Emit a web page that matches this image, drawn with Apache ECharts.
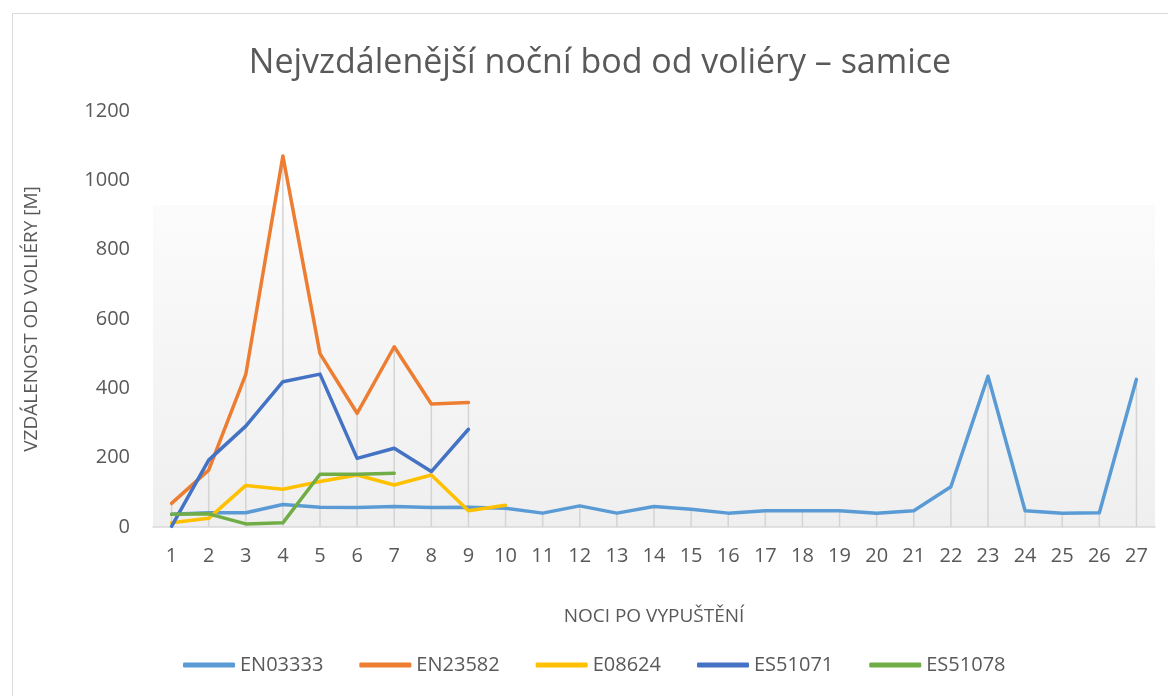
<!DOCTYPE html>
<html>
<head>
<meta charset="utf-8">
<script src="https://cdn.jsdelivr.net/npm/echarts@6/dist/echarts.min.js"></script>
<style>
html,body{margin:0;padding:0;background:#fff;}
#main{width:1168px;height:696px;}
</style>
</head>
<body>
<div id="main"></div>
<script>
// noci po vypuštění
var nights = ['1','2','3','4','5','6','7','8','9','10','11','12','13','14','15','16','17','18','19','20','21','22','23','24','25','26','27'];

var en03333 = [37,41,41,65,57,56,59,56,57,54,40,61,40,59,51,40,47,47,47,40,47,116,435,47,40,41,426];
var en23582 = [68,164,440,1070,500,328,520,355,359];
var e08624  = [12,25,120,109,131,150,121,150,47,63];
var es51071 = [2,193,291,419,441,198,227,160,282];
var es51078 = [37,38,9,12,152,152,155];

var seriesNames = ['EN03333','EN23582','E08624','ES51071','ES51078'];
var seriesData  = [en03333,en23582,e08624,es51071,es51078];
var seriesColors = ['#5B9BD5','#ED7D31','#FFC000','#4472C4','#70AD47'];

// svislé čáry (drop lines) - nejvyšší hodnota v každé noci
var dropLines = nights.map(function(n,i){
	var m = 0;
	seriesData.forEach(function(d){
		if(d[i] != null && d[i] > m){ m = d[i]; }
	});
	return m;
});

var fontName = "'Open Sans', 'DejaVu Sans', sans-serif";
var myChart = echarts.init(document.getElementById('main'));

var series = [{
	name:'drop',
	type:'bar',
	barWidth:1.5,
	silent:true,
	z:1,
	itemStyle:{color:'#d4d4d4'},
	data:dropLines
}];
seriesNames.forEach(function(name,i){
	series.push({
		name:name,
		type:'line',
		data:seriesData[i],
		symbol:'none',
		z:3+i,
		lineStyle:{width:3.5,color:seriesColors[i],cap:'round',join:'round'},
		itemStyle:{color:seriesColors[i]}
	});
});

var option = {
	animation:false,
	textStyle:{fontFamily:fontName},
	title:{
		text:'Nejvzdálenější noční bod od voliéry – samice',
		left:595,
		textAlign:'center',
		top:41,
		textStyle:{fontSize:34,fontWeight:'normal',color:'#595959',fontFamily:fontName}
	},
	graphic:[{
		type:'rect',
		shape:{x:12.5,y:13.5,width:1200,height:720},
		style:{fill:'none',stroke:'#d9d9d9',lineWidth:1},
		silent:true,
		z:-10
	}],
	legend:{
		data:seriesNames,
		bottom:16,
		left:178,
		icon:'roundRect',
		itemWidth:52,
		itemHeight:5,
		itemGap:36,
		textStyle:{fontSize:20,color:'#595959',fontFamily:fontName}
	},
	grid:{
		left:153,
		right:13,
		top:111,
		bottom:169,
		show:true,
		borderWidth:0,
		backgroundColor:{
			type:'linear',x:0,y:0,x2:0,y2:1,
			colorStops:[
				{offset:0,color:'#ffffff'},
				{offset:0.225,color:'#ffffff'},
				{offset:0.227,color:'#fbfbfb'},
				{offset:1,color:'#efefef'}
			]
		}
	},
	xAxis:{
		type:'category',
		data:nights,
		boundaryGap:true,
		name:'NOCI PO VYPUŠTĚNÍ',
		nameLocation:'middle',
		nameGap:80,
		nameTextStyle:{fontSize:19,color:'#595959'},
		axisLine:{lineStyle:{color:'#d9d9d9',width:1.5}},
		axisTick:{show:false},
		axisLabel:{fontSize:20,color:'#595959',margin:19},
		splitLine:{show:false}
	},
	yAxis:{
		type:'value',
		min:0,
		max:1200,
		interval:200,
		name:'VZDÁLENOST OD VOLIÉRY [M]',
		nameLocation:'middle',
		nameGap:112,
		nameRotate:90,
		nameTextStyle:{fontSize:19,color:'#595959'},
		axisLine:{show:false},
		axisTick:{show:false},
		axisLabel:{fontSize:20,color:'#595959',margin:23,formatter:function(v){return String(v);}},
		splitLine:{show:false}
	},
	series:series
};
myChart.setOption(option);
</script>
</body>
</html>
